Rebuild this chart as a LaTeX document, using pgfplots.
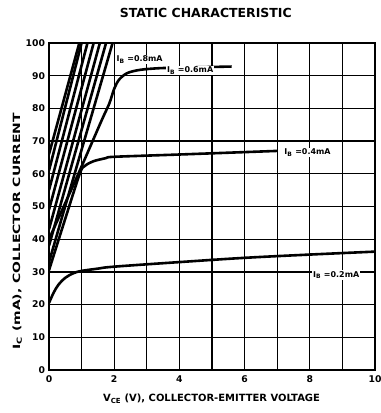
\documentclass[border=0pt]{standalone}
\usepackage{fontspec}
\setmainfont{DejaVu Sans}
\usepackage{graphicx}
\usepackage{pgfplots}
\pgfplotsset{compat=1.18}
\begin{document}
\begin{tikzpicture}
\begin{axis}[
  at={(0,0)}, anchor=south west,
  scale only axis, width=326bp, height=327bp,
  xmin=0, xmax=10, ymin=0, ymax=100,
  xtick={0,2,4,6,8,10}, ytick={0,10,...,100},
  minor x tick num=1,
  grid=both,
  major grid style={black, line width=1.3bp},
  minor grid style={black, line width=1.3bp},
  axis line style={black, line width=1.7bp},
  tick style={draw=none},
  /pgf/number format/assume math mode=true,
  ticklabel style={font=\fontsize{9.3}{10}\selectfont\bfseries},
  xticklabel style={yshift=-2bp},
  yticklabel style={xshift=-0.5bp},
  title={STATIC CHARACTERISTIC},
  title style={at={(axis description cs:0.481,1.074)}, anchor=center, font=\fontsize{12.5}{14}\selectfont\bfseries},
  xlabel={V\textsubscript{CE} (V), COLLECTOR-EMITTER VOLTAGE},
  xlabel style={at={(axis description cs:0.4985,-0.089)}, anchor=center, font=\fontsize{10}{12}\selectfont\bfseries},
  ylabel={\scalebox{1.4}[1]{I\textsubscript{C} (mA), COLLECTOR CURRENT}},
  ylabel style={at={(axis description cs:-0.0976,0.4235)}, anchor=center, font=\fontsize{10}{12}\selectfont\bfseries},
  cycle list={{black, no markers, line width=2.6bp}},
]
% I_B = 0.2 mA
\addplot[black, no markers, line width=2.6bp, smooth, tension=0.6] coordinates {(0,20.5) (0.15,23.8) (0.3,26.2) (0.5,28.2) (0.75,29.6) (1,30.3) (1.5,31) (2,31.6) (4,33) (6,34.3) (8,35.3) (10,36.2)};
% I_B = 0.4 mA
\addplot[black, no markers, line width=2.6bp, smooth, tension=0.5] coordinates {(0,30.5) (0.5,46.3) (0.95,60.2) (1.1,62.4) (1.35,63.8) (1.75,64.8) (2,65.2) (4,65.9) (7,67)};
% I_B = 0.6 mA
\addplot[black, no markers, line width=2.6bp, smooth, tension=0.5] coordinates {(0,40) (0.9,60) (1.6,76) (1.85,81.5) (2.0,86) (2.15,88.8) (2.4,90.8) (2.8,91.8) (3.4,92.3) (4.2,92.5) (5.6,92.8)};
% higher base currents (steep lines)
\addplot[black, no markers, line width=2.6bp] coordinates {(0,66) (0.93,100)};
\addplot[black, no markers, line width=2.6bp] coordinates {(0,61) (1.0,100)};
\addplot[black, no markers, line width=2.6bp] coordinates {(0,55) (1.18,100)};
\addplot[black, no markers, line width=2.6bp] coordinates {(0,49) (1.37,100)};
\addplot[black, no markers, line width=2.6bp] coordinates {(0,43) (1.56,100)};
\addplot[black, no markers, line width=2.6bp] coordinates {(0,38) (1.75,100)};
\addplot[black, no markers, line width=2.6bp] coordinates {(0,33) (1.95,100)};
\node[fill=white, inner sep=1bp, font=\fontsize{8}{9}\selectfont\bfseries] at (axis cs:2.78,95) {I\textsubscript{B} =0.8mA};
\node[fill=white, inner sep=1bp, font=\fontsize{8}{9}\selectfont\bfseries] at (axis cs:4.33,91.6) {I\textsubscript{B} =0.6mA};
\node[fill=white, inner sep=1bp, font=\fontsize{8}{9}\selectfont\bfseries] at (axis cs:7.93,66.5) {I\textsubscript{B} =0.4mA};
\node[fill=white, inner sep=1bp, font=\fontsize{8}{9}\selectfont\bfseries] at (axis cs:8.81,29) {I\textsubscript{B} =0.2mA};
\end{axis}
\pgfresetboundingbox
\path[use as bounding box] (-49bp,-43bp) rectangle (332bp,370bp);
\end{tikzpicture}
\end{document}
